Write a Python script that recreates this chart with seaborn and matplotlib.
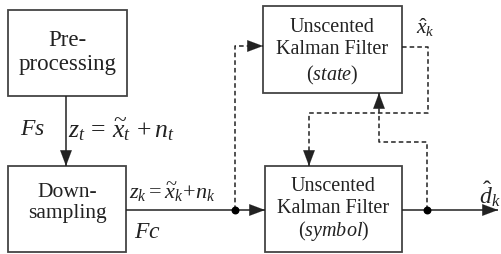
#!/usr/bin/env python3
# UKF receiver block diagram redrawn with seaborn/matplotlib

import matplotlib
matplotlib.use("Agg")
import matplotlib.pyplot as plt
import seaborn as sns

sns.set_style("white")
plt.rcParams['font.family'] = ['Liberation Serif', 'DejaVu Serif']
plt.rcParams['mathtext.fontset'] = 'custom'
plt.rcParams['mathtext.rm'] = 'Liberation Serif'
plt.rcParams['mathtext.it'] = 'Liberation Serif:italic'

# boxes: (x0, y0, x1, y1) in pixel coords of the 502x255 picture
box_names = ["pre", "down", "ukf_state", "ukf_symbol"]
box_rects = [(8, 11, 127, 97), (8, 167, 126, 253), (263, 7, 402, 94), (265, 167, 402, 253)]
box_lines = [["Pre-", "processing"], ["Down-", "sampling"],
             ["Unscented", "Kalman Filter", "($\\it{state}$)"],
             ["Unscented", "Kalman Filter", "($\\it{symbol}$)"]]
box_line_y = [[40, 65], [193, 214], [27, 50, 75], [187, 209, 231]]
box_font = [16.5, 15.5, 14.5, 14.5]

# connections (polylines), last point gets an arrow head if flagged
solid_paths = [
    ([(66, 97), (66, 167)], True),
    ([(126, 211), (265, 211)], True),
    ([(402, 211), (498, 211)], True),
]
dashed_paths = [
    ([(235, 211), (235, 47), (263, 47)], True),
    ([(402, 48), (428, 48), (428, 114), (309, 114), (309, 167)], True),
    ([(427, 211), (427, 143), (379, 143), (379, 94)], True),
]
dots = [(235, 211), (427, 211)]

# signal labels
label_texts = ["$Fs$", "$z_t\\,=\\,\\widetilde{x}_t\\,+n_t$", "$z_k = \\widetilde{x}_k\\!+\\!n_k$",
               "$Fc$", "$\\hat{x}_k$", "$\\hat{d}_k$"]
label_pos = [(20, 130), (68, 130), (129, 192), (134, 233), (416, 28), (479, 209)]
label_va = ['center', 'center', 'center', 'center', 'center', 'bottom']
label_size = [17, 18.5, 16, 17, 15.5, 17]

fig = plt.figure(figsize=(5.02, 2.55), dpi=100)
ax = fig.add_axes([0, 0, 1, 1])
ax.set_xlim(0, 502)
ax.set_ylim(255, 0)
ax.axis('off')

lc = '#222222'

for (x0, y0, x1, y1), lines, ys, fs in zip(box_rects, box_lines, box_line_y, box_font):
    ax.add_patch(plt.Rectangle((x0, y0), x1 - x0, y1 - y0, fill=False, ec='#444444', lw=1.3))
    cx = (x0 + x1) / 2
    for t, y in zip(lines, ys):
        ax.text(cx, y, t, ha='center', va='center', fontsize=fs, color='#222222')


def draw_path(pts, arrow, ls):
    xs = [p[0] for p in pts]
    ys = [p[1] for p in pts]
    ax.plot(xs, ys, color=lc, lw=1.1, ls=ls, dashes=(3, 2) if ls == '--' else (None, None),
            solid_capstyle='butt')
    if arrow:
        (xa, ya), (xb, yb) = pts[-2], pts[-1]
        dx = xb - xa
        dy = yb - ya
        n = (dx ** 2 + dy ** 2) ** 0.5
        start = (xb - dx / n * 12, yb - dy / n * 12)
        ax.annotate('', xy=(xb, yb), xytext=start,
                    arrowprops=dict(arrowstyle='-|>,head_length=0.8,head_width=0.3',
                                    color=lc, lw=0.1, shrinkA=0, shrinkB=0,
                                    mutation_scale=14))


for pts, arrow in solid_paths:
    draw_path(pts, arrow, '-')
for pts, arrow in dashed_paths:
    draw_path(pts, arrow, '--')

ax.scatter([d[0] for d in dots], [d[1] for d in dots], s=22, color='black', zorder=5)

for t, (x, y), fs, va in zip(label_texts, label_pos, label_size, label_va):
    ax.text(x, y, t, ha='left', va=va, fontsize=fs, color='#222222')

fig.savefig('out.png', dpi=100)
